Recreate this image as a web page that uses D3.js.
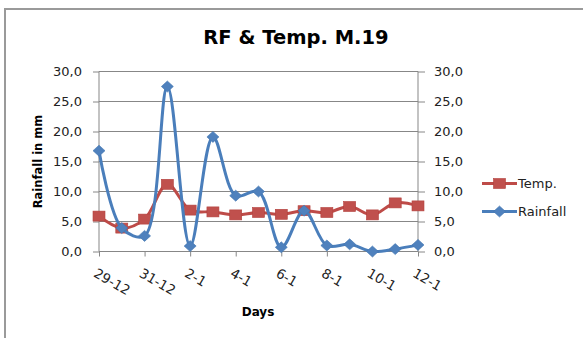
<!DOCTYPE html>
<html>
<head>
<meta charset="utf-8">
<script src="https://cdn.jsdelivr.net/npm/d3@7/dist/d3.min.js"></script>
<style>
  html, body { margin: 0; padding: 0; background: #fff; }
  svg { display: block; font-family: "DejaVu Sans", sans-serif; }
</style>
</head>
<body>
<script>
// ---- data ----
const categories = ["29-12","30-12","31-12","1-1","2-1","3-1","4-1","5-1","6-1","7-1","8-1","9-1","10-1","11-1","12-1"];
const rainfall = [16.8, 3.9, 2.6, 27.5, 0.9, 19.1, 9.3, 10.0, 0.7, 6.8, 1.0, 1.2, 0.0, 0.4, 1.1];
const temp = [5.9, 3.9, 5.4, 11.2, 6.9, 6.6, 6.1, 6.5, 6.2, 6.8, 6.5, 7.5, 6.1, 8.1, 7.6];
const yTicks = [0, 5, 10, 15, 20, 25, 30];
const title = "RF & Temp. M.19";
const yTitle = "Rainfall in mm";
const xTitle = "Days";
const seriesNames = ["Temp.", "Rainfall"];

(function () {
// ---- layout ----
const W = 583, H = 338;
const pL = 99, pR = 418, pT = 71.5, pB = 251.5;
const blueLine = "#4A7EBB", blueMark = "#4F81BD";
const redLine = "#BE4B48", redMark = "#C0504D";
const grid = "#878787";

const svg = d3.select("body").append("svg").attr("width", W).attr("height", H);

// outer border
svg.append("path").attr("d", `M5,${H} L5,9 L${W},9`)
  .attr("fill", "none").attr("stroke", "#9a9a9a").attr("stroke-width", 2);

const x = d3.scalePoint().domain(categories).range([pL, pR]);
const y = d3.scaleLinear().domain([0, 30]).range([pB, pT]);

// title
svg.append("text").attr("x", 296).attr("y", 43.5).attr("text-anchor", "middle")
  .attr("font-size", 19.5).attr("font-weight", "bold").attr("fill", "#000").text(title);

// gridlines
svg.append("g").selectAll("line").data(yTicks.filter(d => d > 0)).join("line")
  .attr("x1", pL).attr("x2", pR).attr("y1", d => y(d)).attr("y2", d => y(d))
  .attr("stroke", grid).attr("stroke-width", 1);

// left axis
const fmt = d => d3.format(".1f")(d).replace(".", ",");
const gl = svg.append("g").attr("transform", `translate(${pL},0)`)
  .call(d3.axisLeft(y).tickValues(yTicks).tickSize(6).tickPadding(11).tickFormat(fmt));
gl.select(".domain").attr("stroke", grid).attr("d", `M0,${pB}V${pT}`);
gl.selectAll(".tick line").attr("stroke", grid);
gl.selectAll("text").attr("font-size", 13).attr("fill", "#222").attr("font-family", "DejaVu Sans");

// right axis
const gr = svg.append("g").attr("transform", `translate(${pR},0)`)
  .call(d3.axisRight(y).tickValues(yTicks).tickSize(7).tickPadding(9).tickFormat(fmt));
gr.select(".domain").attr("stroke", grid).attr("d", `M0,${pB}V${pT}`);
gr.selectAll(".tick line").attr("stroke", grid);
gr.selectAll("text").attr("font-size", 13).attr("fill", "#222").attr("font-family", "DejaVu Sans");

// bottom axis
const xTickVals = categories.filter((d, i) => i % 2 === 0);
const gb = svg.append("g").attr("transform", `translate(0,${pB})`)
  .call(d3.axisBottom(x).tickValues(xTickVals).tickSize(5).tickFormat(""));
gb.select(".domain").attr("stroke", grid).attr("d", `M${pL},0H${pR}`);
gb.selectAll(".tick line").attr("stroke", grid);
gb.selectAll(".tick").append("text")
  .attr("transform", "translate(-2,16) rotate(30)")
  .attr("dy", "0.72em")
  .attr("text-anchor", "start")
  .attr("font-size", 13.5).attr("fill", "#222").attr("font-family", "DejaVu Sans")
  .text(d => d);

// axis titles
svg.append("text").attr("transform", `translate(42,${(pT + pB) / 2}) rotate(-90)`)
  .attr("text-anchor", "middle").attr("font-size", 11.5).attr("font-weight", "bold")
  .attr("fill", "#000").text(yTitle);
svg.append("text").attr("x", 258).attr("y", 316).attr("text-anchor", "middle")
  .attr("font-size", 12).attr("font-weight", "bold").attr("fill", "#000").text(xTitle);

// series
const line = d3.line().x((d, i) => x(categories[i])).y(d => y(d)).curve(d3.curveCatmullRom.alpha(0.5));

function square(g, cx, cy, color) {
  g.append("rect").attr("x", cx - 6).attr("y", cy - 5).attr("width", 12).attr("height", 10)
    .attr("fill", color).attr("stroke", "#B3403D").attr("stroke-width", 0.6);
}
function diamond(g, cx, cy, color) {
  g.append("path").attr("d", `M${cx},${cy - 5.5}L${cx + 6},${cy}L${cx},${cy + 5.5}L${cx - 6},${cy}Z`)
    .attr("fill", color).attr("stroke", "#4275B0").attr("stroke-width", 0.6);
}

const gt = svg.append("g");
gt.append("path").datum(temp).attr("d", line).attr("fill", "none")
  .attr("stroke", redLine).attr("stroke-width", 3).attr("stroke-linejoin", "round");
temp.forEach((v, i) => square(gt, x(categories[i]), y(v), redMark));

const grf = svg.append("g");
grf.append("path").datum(rainfall).attr("d", line).attr("fill", "none")
  .attr("stroke", blueLine).attr("stroke-width", 3).attr("stroke-linejoin", "round");
rainfall.forEach((v, i) => diamond(grf, x(categories[i]), y(v), blueMark));

// legend
const leg = svg.append("g");
const legY = [183.5, 211.5];
leg.append("line").attr("x1", 482).attr("x2", 517).attr("y1", legY[0]).attr("y2", legY[0])
  .attr("stroke", redLine).attr("stroke-width", 3);
square(leg, 499.5, legY[0], redMark);
leg.append("line").attr("x1", 482).attr("x2", 517).attr("y1", legY[1]).attr("y2", legY[1])
  .attr("stroke", blueLine).attr("stroke-width", 3);
diamond(leg, 499.5, legY[1], blueMark);
leg.selectAll("text.lg").data(seriesNames).join("text").attr("class", "lg")
  .attr("x", 518).attr("y", (d, i) => legY[i] + 4.5)
  .attr("font-size", 13).attr("fill", "#222").text(d => d);
})();
</script>
</body>
</html>
